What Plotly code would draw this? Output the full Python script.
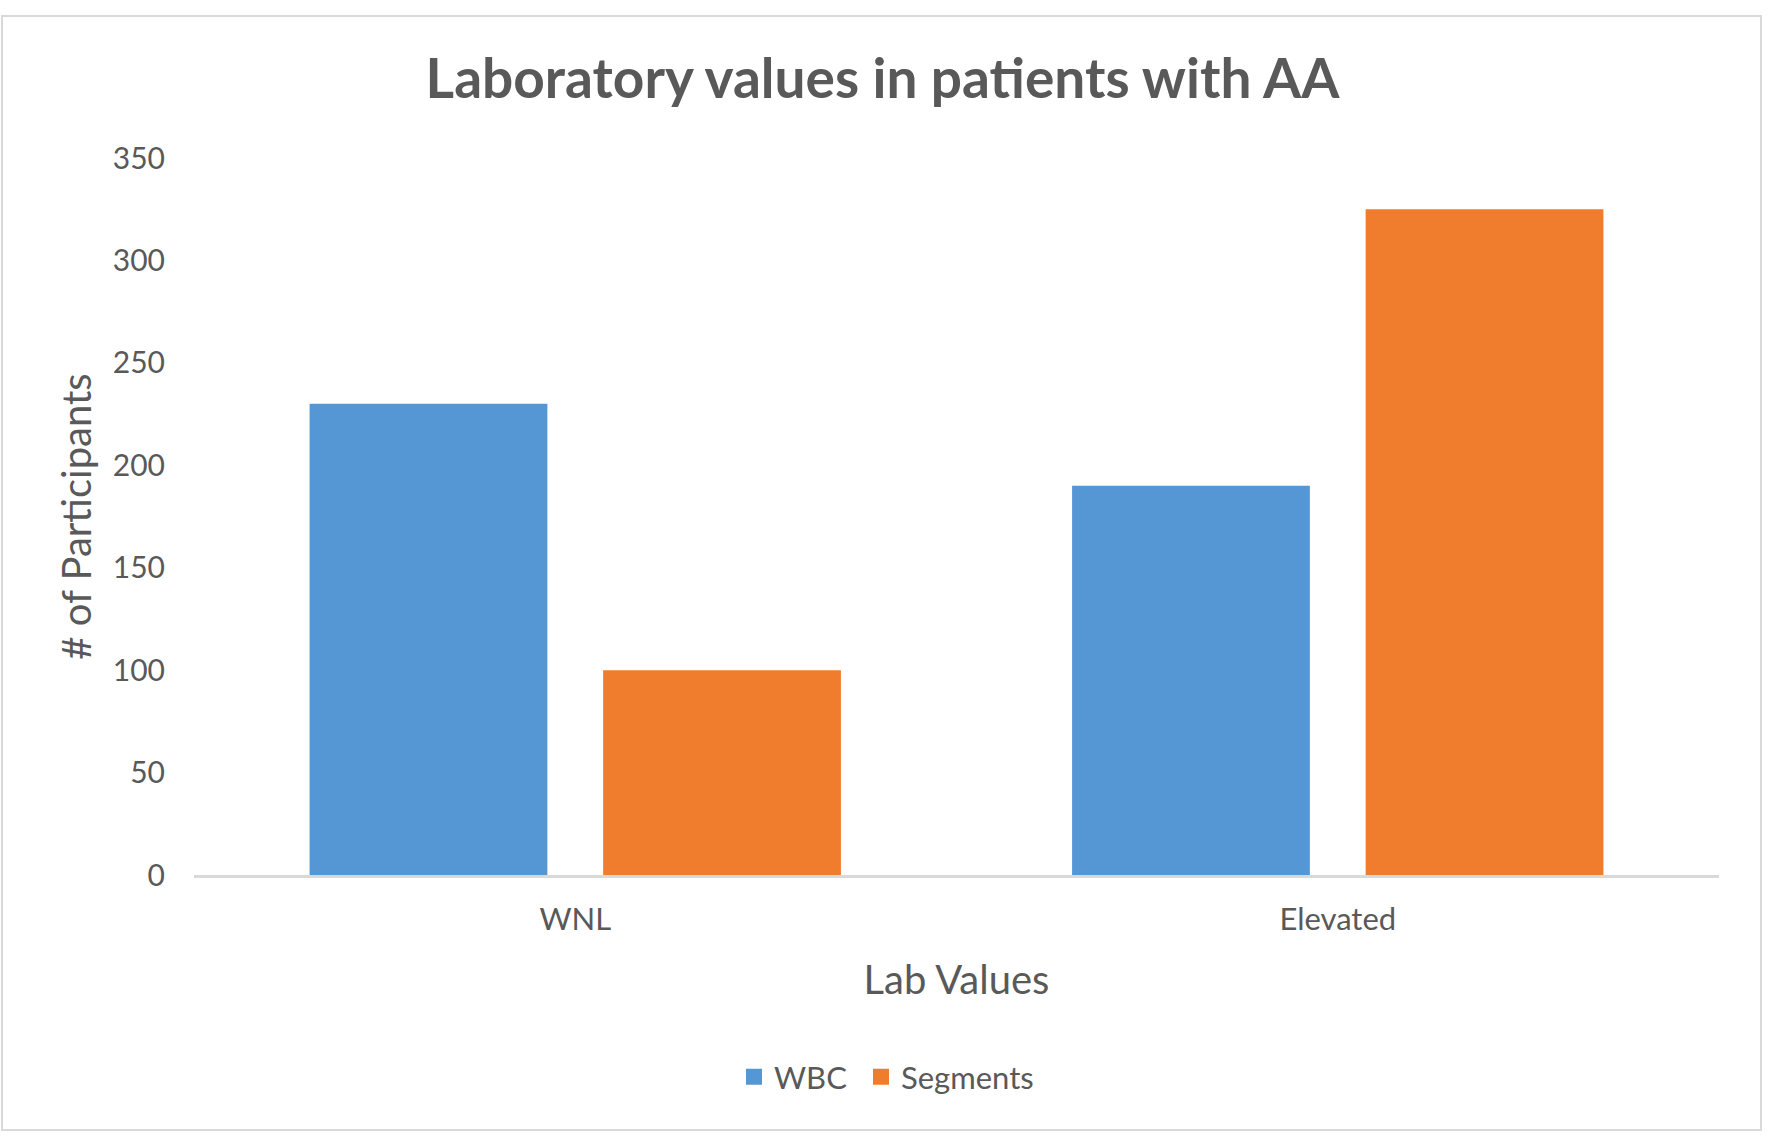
import plotly.graph_objects as go

categories = ["WNL", "Elevated"]
wbc = [230, 190]
segments = [100, 325]
y_ticks = [0, 50, 100, 150, 200, 250, 300, 350]

TEXT = "#595959"
FONT = "Lato"
BLUE = "#5597D5"
ORANGE = "#F07D2D"

fig = go.Figure()
fig.add_trace(go.Bar(name="WBC", x=categories, y=wbc, showlegend=False,
                     marker=dict(color=BLUE, line=dict(width=0))))
fig.add_trace(go.Bar(name="Segments", x=categories, y=segments, showlegend=False,
                     marker=dict(color=ORANGE, line=dict(width=0))))
# legend entries with square keys (one legend per entry for exact spacing)
for name, col, lg in [("WBC", BLUE, "legend"), ("Segments", ORANGE, "legend2")]:
    fig.add_trace(go.Scatter(x=[None], y=[None], mode="markers", name=name, legend=lg,
                             marker=dict(symbol="square", size=18, color=col)))

leg_common = dict(orientation="h", xanchor="left", y=-0.282, yanchor="middle",
                  font=dict(family=FONT, size=31, color=TEXT), itemwidth=30,
                  itemsizing="trace", bgcolor="rgba(0,0,0,0)")

fig.update_layout(
    width=1772, height=1143,
    paper_bgcolor="white", plot_bgcolor="white",
    margin=dict(l=194, r=53, t=158, b=268),
    barmode="group", bargap=0.23, bargroupgap=0.19,
    font=dict(family=FONT, color=TEXT),
    title=dict(text="<b>Laboratory values in patients with AA</b>",
               x=0.498, xref="container", xanchor="center",
               y=1 - 79 / 1143, yref="container", yanchor="middle",
               font=dict(family=FONT, size=55, color=TEXT)),
    legend=dict(x=(734 - 194) / 1525, **leg_common),
    legend2=dict(x=(861 - 194) / 1525, **leg_common),
    showlegend=True,
)
fig.update_xaxes(showline=True, linecolor="#D9D9D9", linewidth=3, showgrid=False,
                 ticks="", tickfont=dict(family=FONT, size=31, color=TEXT),
                 ticklabelstandoff=15,
                 title=dict(text="Lab Values", font=dict(family=FONT, size=40, color=TEXT),
                            standoff=30))
fig.update_yaxes(range=[0, 350], tickvals=y_ticks, showgrid=False, zeroline=False,
                 showline=False, ticks="",
                 tickfont=dict(family=FONT, size=30, color=TEXT),
                 ticklabelstandoff=28,
                 title=dict(text="# of Participants", font=dict(family=FONT, size=40, color=TEXT),
                            standoff=8))

fig.add_shape(type="rect", xref="paper", yref="paper",
              x0=(2 - 194) / 1525, x1=(1761 - 194) / 1525,
              y0=(875 - 1130) / 717, y1=(875 - 16) / 717,
              line=dict(color="#D9D9D9", width=2), fillcolor="rgba(0,0,0,0)", layer="below")

fig.write_html("out.html", config={"displayModeBar": False},
               post_script="document.body.style.margin='0';")
